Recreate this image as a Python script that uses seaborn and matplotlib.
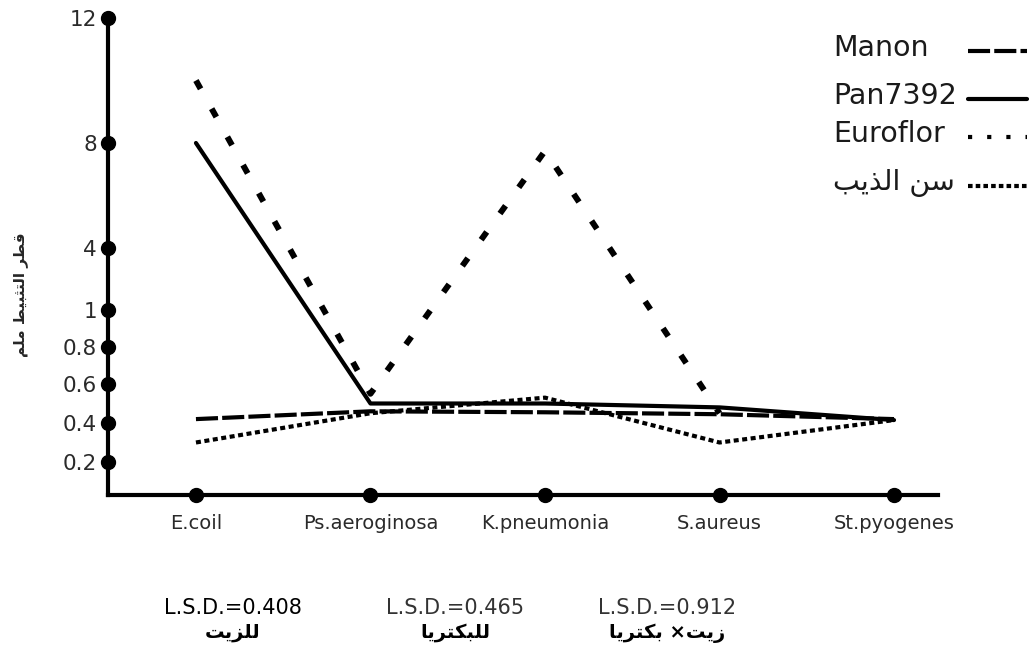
import numpy as np
import pandas as pd
import matplotlib
matplotlib.use("Agg")
import matplotlib.pyplot as plt
import seaborn as sns
from matplotlib.lines import Line2D

# ---------------- data ----------------
bacteria = ["E.coil", "Ps.aeroginosa", "K.pneumonia", "S.aureus", "St.pyogenes"]
manon = [0.42, 0.46, 0.455, 0.445, 0.42]
pan7392 = [8.0, 0.50, 0.50, 0.48, 0.415]
euroflor = [10.0, 0.55, 7.7, 0.45, np.nan]
sin_althib = [0.30, 0.45, 0.53, 0.30, 0.415]

series_names = ["Manon", "Pan7392", "Euroflor",
                "\uFE90\uFEF3\uFEAC\uFEDF\uFE8D \uFEE6\uFEB3"]  # سن الذيب
ytick_values = [0.2, 0.4, 0.6, 0.8, 1, 4, 8, 12]
ytick_labels = ["0.2", "0.4", "0.6", "0.8", "1", "4", "8", "12"]
ylabel_text = "\uFEE2\uFEE0\uFEE3 \uFEC2\uFEF4\uFE92\uFE9C\uFE98\uFEDF\uFE8D \uFEAE\uFEC4\uFED7"  # قطر التثبيط ملم
lsd_labels = ["L.S.D.=0.408", "L.S.D.=0.465", "L.S.D.=0.912"]
lsd_arabic = ["\uFE96\uFEF3\uFEB0\uFEE0\uFEDF",                       # للزيت
              "\uFE8E\uFEF3\uFEAE\uFE98\uFEDC\uFE92\uFEE0\uFEDF",     # للبكتريا
              "\uFE8E\uFEF3\uFEAE\uFE98\uFEDC\uFE91 \u00D7\uFE96\uFEF3\uFEAF"]  # زيت× بكتريا

# ---------------- style ----------------
sns.set_style("white")
plt.rcParams["font.family"] = ["DejaVu Sans"]

W, H = 1030, 650
fig = plt.figure(figsize=(W / 100, H / 100), dpi=100)
ax = fig.add_axes([108 / W, 155 / H, 830 / W, 477 / H])

# non-uniform value axis (as in the original drawing)
kv = [0, 0.2, 0.4, 0.6, 0.8, 1, 4, 8, 12]
kp = [0, 33, 72, 111, 148, 185, 247, 352, 477]
def fwd(v):
    return np.interp(v, kv, kp)
def inv(p):
    return np.interp(p, kp, kv)
ax.set_yscale("function", functions=(fwd, inv))

styles = [
    dict(lw=3.0, linestyle=(0, (5.3, 1.0))),
    dict(lw=3.0, linestyle="-"),
    dict(lw=4.3, linestyle=(0, (1.6, 3.8))),
    dict(lw=3.0, linestyle=(0, (1.2, 0.85))),
]
for vals, st in zip([manon, pan7392, euroflor, sin_althib], styles):
    df = pd.DataFrame({"bacteria": bacteria, "value": vals}).dropna()
    sns.lineplot(data=df, x="bacteria", y="value", ax=ax, color="black",
                 sort=False, errorbar=None, **st)

ax.set_xlim(-0.504, 4.252)
ax.set_ylim(0, 12)

# axes / ticks
for s in ["top", "right"]:
    ax.spines[s].set_visible(False)
for s in ["left", "bottom"]:
    ax.spines[s].set_linewidth(3)
    ax.spines[s].set_color("black")
    ax.spines[s].set_capstyle("projecting")

ax.set_yticks(ytick_values)
ax.set_yticklabels(ytick_labels)
ax.set_xticks(range(len(bacteria)))
ax.set_xticklabels(bacteria)
ax.tick_params(axis="y", length=0, pad=8, labelsize=15.5, labelcolor="#2a2a2a")
ax.tick_params(axis="x", length=0, pad=14, labelsize=14, labelcolor="#2a2a2a")
ax.minorticks_off()

# dot tick marks
ax.plot(np.zeros(len(ytick_values)), ytick_values, "o", color="black", ms=10,
        transform=ax.get_yaxis_transform(), clip_on=False, zorder=5)
ax.plot(range(len(bacteria)), np.zeros(len(bacteria)), "o", color="black", ms=10,
        clip_on=False, zorder=5)

ax.set_xlabel("")
ax.set_ylabel(ylabel_text, fontsize=11, fontweight="bold")
ax.yaxis.set_label_coords(-(108 - 28) / 830, 0.42)

# legend: labels left-aligned, line samples at the right
leg_styles = [
    dict(lw=3, linestyle=(0, (5.3, 1.0))),
    dict(lw=3, linestyle="-"),
    dict(lw=3, linestyle=(0, (1.0, 3.6))),
    dict(lw=3, linestyle=(0, (1.1, 0.75))),
]
leg_rows = [48, 96, 134, 183]
for name, st, yy in zip(series_names, leg_styles, leg_rows):
    fig.text(833 / W, 1 - yy / H, name, ha="left", va="center",
             fontsize=20.5, color="#1a1a1a")
    fig.add_artist(Line2D([968 / W, 1027 / W], [1 - (yy + 3) / H] * 2,
                          transform=fig.transFigure, color="black", **st))

# L.S.D. annotations
lsd_x = [233, 455, 667]
for i, (lab, ar, x) in enumerate(zip(lsd_labels, lsd_arabic, lsd_x)):
    fig.text(x / W, 1 - 608 / H, lab, ha="center", va="center",
             fontsize=15, color="black" if i == 0 else "#333333")
    fig.text(x / W, 1 - 633 / H, ar, ha="center", va="center",
             fontsize=14, fontweight="bold", color="black")

fig.savefig("out.png", dpi=100, facecolor="white")
